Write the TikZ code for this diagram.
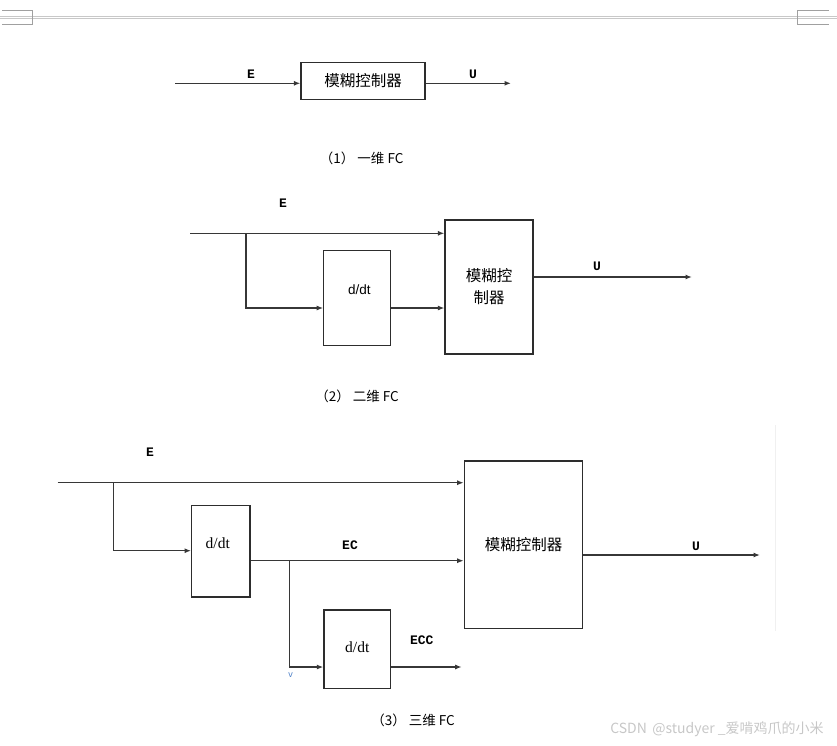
\documentclass[tikz,border=0pt]{standalone}
\usepackage{fontspec}
\usepackage{xcolor}
\usepackage{tikz}
\usetikzlibrary{arrows.meta, positioning}
\setmainfont{Liberation Serif}
\newfontfamily\cjk{Noto Sans CJK SC}
\newfontfamily\monolab{Liberation Mono}
\newfontfamily\arial{Liberation Sans}
\definecolor{boxline}{RGB}{45,45,45}
\definecolor{wiregray}{RGB}{55,55,55}
\definecolor{headgray}{RGB}{200,200,200}
\definecolor{markblue}{RGB}{80,130,200}

\begin{document}
\begin{tikzpicture}[x=1pt, y=-1pt,
  ctrl/.style={
    rectangle, draw=boxline, line width=1.2pt, inner sep=0pt,
    align=center, font=\cjk\fontsize{15.5}{22}\selectfont
  },
  ddt/.style={rectangle, draw=boxline, line width=1.2pt, inner sep=0pt},
  dtext/.style={inner sep=0pt, font=\fontsize{15.5}{18}\selectfont},
  dtextsans/.style={inner sep=0pt, font=\arial\fontsize{13.5}{16}\selectfont},
  sig/.style={inner sep=0pt, font=\monolab\bfseries\fontsize{13}{15}\selectfont},
  captext/.style={inner sep=0pt, font=\cjk\fontsize{13.5}{16}\selectfont},
  arr/.style={-{Latex[length=6.5pt, width=5pt]}, line width=1.3pt, color=wiregray},
  wire/.style={line width=1.3pt, color=wiregray}
]
  \useasboundingbox (0,0) rectangle (837,745);

  % page header marks
  \draw[headgray, line width=0.8pt] (0,16) -- (837,16) (0,18.5) -- (837,18.5);
  \draw[headgray!80!black, line width=0.6pt] (2,10.3) -| (32.6,24.3) -- (2,24.3);
  \draw[headgray!80!black, line width=0.6pt] (829,10.3) -| (797,24.3) -- (829,24.3);

  % (1) one-dimensional FC
  \node[ctrl, minimum width=124, minimum height=36.5] (fc1) at (363,81) {模糊控制器};
  \coordinate (e1in)  at (175,83.3);
  \coordinate (u1out) at (511,83.3);
  \draw[arr] (e1in) -- (e1in -| fc1.west);
  \draw[arr] (fc1.east |- u1out) -- (u1out);
  \node[sig] (e1lab) at (251,74) {E};
  \node[sig] (u1lab) at (473,74) {U};
  \node[captext] (cap1) at (361.7,158) {（1） 一维 FC};

  % (2) two-dimensional FC
  \node[ctrl, minimum width=88, minimum height=134] (fc2) at (489,287) {模糊控\\制器};
  \node[ddt, minimum width=67, minimum height=95,
        label={[dtextsans, name=dd2txt, xshift=2pt, yshift=9pt]center:d/dt}] (dd2) at (357.3,298.3) {};
  \coordinate (e2in)  at (190,233.3);
  \coordinate (br2)   at (246,233.3);
  \coordinate (d2row) at (0,308);
  \coordinate (u2out) at (692,277);
  \draw[arr] (e2in) -- (e2in -| fc2.west);
  \draw[arr] (br2) |- (dd2.west |- d2row);
  \draw[arr] (dd2.east |- d2row) -- (fc2.west |- d2row);
  \draw[arr] (fc2.east |- u2out) -- (u2out);
  \node[sig] (e2lab) at (283,203) {E};
  \node[sig] (u2lab) at (597,266) {U};
  \node[captext] (cap2) at (357,396.7) {（2） 二维 FC};

  % (3) three-dimensional FC
  \node[ctrl, minimum width=118.4, minimum height=167.3] (fc3) at (523.5,544.7) {模糊控制器};
  \node[ddt, minimum width=58.3, minimum height=91.3,
        label={[dtext, name=dd3atxt, xshift=-3pt, yshift=8pt]center:d/dt}] (dd3a) at (220.8,551.3) {};
  \node[ddt, minimum width=66.7, minimum height=78.3,
        label={[dtext, name=dd3btxt, yshift=2pt]center:d/dt}] (dd3b) at (357.3,649.2) {};
  \coordinate (e3in)    at (57.7,482.7);
  \coordinate (br3a)    at (113.3,482.7);
  \coordinate (d3row)   at (0,550.7);
  \coordinate (ec3row)  at (0,560.7);
  \coordinate (br3b)    at (289.2,560.7);
  \coordinate (ecc3row) at (0,667);
  \coordinate (ecc3out) at (461.7,667);
  \coordinate (u3out)   at (760,555);
  \draw[arr] (e3in) -- (e3in -| fc3.west);
  \draw[arr] (br3a) |- (dd3a.west |- d3row);
  \draw[arr] (dd3a.east |- ec3row) -- (fc3.west |- ec3row);
  \draw[arr] (br3b) |- (dd3b.west |- ecc3row);
  \draw[arr] (dd3b.east |- ecc3row) -- (ecc3out);
  \draw[arr] (fc3.east |- u3out) -- (u3out);
  \node[sig] (e3lab)   at (150,452) {E};
  \node[sig] (ec3lab)  at (350,545.7) {EC};
  \node[sig] (ecc3lab) at (421.7,640) {ECC};
  \node[sig] (u3lab)   at (696,546.7) {U};
  \node[inner sep=0pt, text=markblue, font=\arial\fontsize{9}{10}\selectfont] (vmark) at (290.7,675) {v};
  \node[captext] (cap3) at (413,720) {（3） 三维 FC};

  % faint page edge and watermark
  \draw[black!6, line width=0.8pt] (775,425) -- (775,631);
  \node[inner sep=0pt, text=black!22, font=\cjk\fontsize{14}{16}\selectfont] (wmark) at (717,729)
        {CSDN \,@studyer \_爱啃鸡爪的小米};
\end{tikzpicture}
\end{document}
